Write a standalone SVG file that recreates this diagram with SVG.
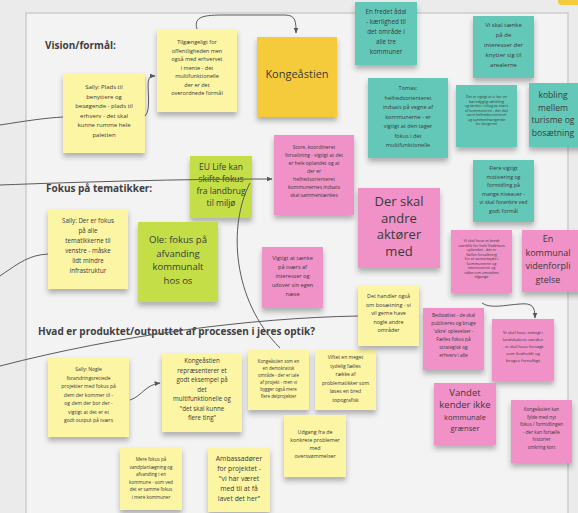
<svg xmlns="http://www.w3.org/2000/svg" width="578" height="513" viewBox="0 0 578 513">
<defs>
<filter id="sh" x="-20%" y="-20%" width="140%" height="150%">
<feDropShadow dx="0" dy="4" stdDeviation="2.5" flood-color="#333" flood-opacity="0.35"/>
</filter>
<marker id="ah" viewBox="0 0 10 10" refX="9" refY="5" markerWidth="6" markerHeight="6" orient="auto-start-reverse" markerUnits="userSpaceOnUse">
<path d="M0,1 L10,5 L0,9 z" fill="#555"/>
</marker>
<style>
.frame{fill:#f3f3f4;stroke:#cdcdcd;stroke-width:1.5}
.y{fill:#fcf5a4;filter:url(#sh)}
.g{fill:#f6cb3b;filter:url(#sh)}
.t{fill:#64c8b8;filter:url(#sh)}
.p{fill:#f091c8;filter:url(#sh)}
.l{fill:#c3de47;filter:url(#sh)}
text{font-family:"Open Sans","Noto Sans","Liberation Sans",sans-serif;fill:#3a3a3a;text-anchor:middle}
.h{font-weight:bold;font-size:10px;text-anchor:start;fill:#404040}
.c{fill:none;stroke:#5a5a5a;stroke-width:1}
</style>
</defs>
<rect width="578" height="513" fill="#ebebeb"/>
<rect class="frame" x="26" y="13" width="542" height="510"/>
<rect x="558" y="-10" width="30" height="15" rx="4" fill="#f6cb3b"/>

<g id="headings">
<text class="h" x="45" y="49">Vision/formål:</text>
<text class="h" x="46" y="192">Fokus på tematikker:</text>
<text class="h" x="38" y="335">Hvad er produktet/outputtet af processen i jeres optik?</text>
</g>

<g id="n-sally-vision">
<rect class="y" x="63" y="73" width="82" height="80"/>
<text font-size="6"><tspan x="104" y="89">Sally: Plads til</tspan><tspan x="104" y="98.5">benyttere og</tspan><tspan x="104" y="108">besøgende - plads til</tspan><tspan x="104" y="117.5">erhverv - det skal</tspan><tspan x="104" y="127">kunne rumme hele</tspan><tspan x="104" y="136.5">paletten</tspan></text>
</g>
<g id="n-tilgaengeligt">
<rect class="y" x="157" y="29" width="80" height="83"/>
<text font-size="5.5"><tspan x="197" y="44">Tilgængeligt for</tspan><tspan x="197" y="52.5">offentligheden men</tspan><tspan x="197" y="61">også med erhvervet</tspan><tspan x="197" y="69.5">i mente - det</tspan><tspan x="197" y="78">multifunktionelle</tspan><tspan x="197" y="86.5">der er det</tspan><tspan x="197" y="95">overordnede formål</tspan></text>
</g>
<g id="n-kongeaastien">
<rect class="g" x="257" y="37" width="80" height="80"/>
<text font-size="11" x="297" y="78">Kongeåstien</text>
</g>

<g id="n-fredet">
<rect class="t" x="355" y="2" width="62" height="63"/>
<text font-size="6.3"><tspan x="386" y="14">En fredet ådal</tspan><tspan x="386" y="24">- kærlighed til</tspan><tspan x="386" y="34">det område i</tspan><tspan x="386" y="44">alle tre</tspan><tspan x="386" y="54">kommuner</tspan></text>
</g>
<g id="n-interesser">
<rect class="t" x="473" y="16" width="61" height="62"/>
<text font-size="6"><tspan x="503.5" y="27">Vi skal tænke</tspan><tspan x="503.5" y="37">på de</tspan><tspan x="503.5" y="47">interesser der</tspan><tspan x="503.5" y="57">knytter sig til</tspan><tspan x="503.5" y="67">arealerne</tspan></text>
</g>
<g id="n-tomas">
<rect class="t" x="368" y="78" width="80" height="80"/>
<text font-size="5.6"><tspan x="408" y="90">Tomas:</tspan><tspan x="408" y="99.5">helhedsorienteret</tspan><tspan x="408" y="109">indsats på vegne af</tspan><tspan x="408" y="118.5">kommunerne - er</tspan><tspan x="408" y="128">vigtigt at den tager</tspan><tspan x="408" y="137.5">fokus i det</tspan><tspan x="408" y="147">multifunktionelle</tspan></text>
</g>
<g id="n-teal-small">
<rect class="t" x="456" y="85" width="61" height="62"/>
<text font-size="3.6"><tspan x="486.5" y="98">Det er vigtigt at vi har en</tspan><tspan x="486.5" y="102.5">bæredygtig udvikling</tspan><tspan x="486.5" y="107">og tænker i tiltag på tværs</tspan><tspan x="486.5" y="111.5">af kommunerne - det skal</tspan><tspan x="486.5" y="116">være helhedsorienteret</tspan><tspan x="486.5" y="120.5">og sammenhængende</tspan><tspan x="486.5" y="125">for borgerne</tspan></text>
</g>
<g id="n-kobling">
<rect class="t" x="529" y="83" width="62" height="64"/>
<text font-size="8.6"><tspan x="553" y="98">kobling</tspan><tspan x="553" y="110.5">mellem</tspan><tspan x="553" y="123">turisme og</tspan><tspan x="553" y="135.5">bosætning</tspan></text>
</g>
<g id="n-flere">
<rect class="t" x="473" y="160" width="61" height="62"/>
<text font-size="5.3"><tspan x="503.5" y="170">Flere vigtigt</tspan><tspan x="503.5" y="178.5">motivering og</tspan><tspan x="503.5" y="187">formidling på</tspan><tspan x="503.5" y="195.5">mange niveauer -</tspan><tspan x="503.5" y="204">vi skal forankre ved</tspan><tspan x="503.5" y="212.5">godt formål</tspan></text>
</g>

<g id="n-eulife">
<rect class="l" x="190" y="156" width="62" height="62"/>
<text font-size="8.5"><tspan x="221" y="170">EU Life kan</tspan><tspan x="221" y="182">skifte fokus</tspan><tspan x="221" y="194">fra landbrug</tspan><tspan x="221" y="206">til miljø</tspan></text>
</g>
<g id="n-store">
<rect class="p" x="274" y="135" width="80" height="80"/>
<text font-size="5"><tspan x="314" y="149">Store, koordineret</tspan><tspan x="314" y="157">forvaltning - vigtigt at det</tspan><tspan x="314" y="165">er hele oplandet og at</tspan><tspan x="314" y="173">der er</tspan><tspan x="314" y="181">helhedsorienteret</tspan><tspan x="314" y="189">kommunernes indsats</tspan><tspan x="314" y="197">skal sammentænkes</tspan></text>
</g>
<g id="n-sally-tema">
<rect class="y" x="48" y="209" width="80" height="80"/>
<text font-size="6.2"><tspan x="88" y="223">Sally: Der er fokus</tspan><tspan x="88" y="233">på alle</tspan><tspan x="88" y="243">tematikkerne til</tspan><tspan x="88" y="253">venstre - måske</tspan><tspan x="88" y="263">lidt mindre</tspan><tspan x="88" y="273">infrastruktur</tspan></text>
</g>
<g id="n-ole">
<rect class="l" x="138" y="222" width="80" height="80"/>
<text font-size="9.5"><tspan x="178" y="243">Ole: fokus på</tspan><tspan x="178" y="256.5">afvanding</tspan><tspan x="178" y="270">kommunalt</tspan><tspan x="178" y="283.5">hos os</tspan></text>
</g>
<g id="n-vigtigt">
<rect class="p" x="262" y="247" width="61" height="61"/>
<text font-size="5.6"><tspan x="292.5" y="260">Vigtigt at tænke</tspan><tspan x="292.5" y="269">på tværs af</tspan><tspan x="292.5" y="278">interesser og</tspan><tspan x="292.5" y="287">udover sin egen</tspan><tspan x="292.5" y="296">næse</tspan></text>
</g>
<g id="n-aktoerer">
<rect class="p" x="358" y="188" width="82" height="80"/>
<text font-size="13"><tspan x="399" y="206">Der skal</tspan><tspan x="399" y="222.5">andre</tspan><tspan x="399" y="239">aktører</tspan><tspan x="399" y="255.5">med</tspan></text>
</g>
<g id="n-pink-small">
<rect class="p" x="451" y="230" width="61" height="63"/>
<text font-size="3.8"><tspan x="481.5" y="242">Vi skal have et bredt</tspan><tspan x="481.5" y="246.5">overblik for hele Vadehavs</tspan><tspan x="481.5" y="251">oplandet - det er</tspan><tspan x="481.5" y="255.5">fælles forvaltning</tspan><tspan x="481.5" y="260">for at samarbejde i</tspan><tspan x="481.5" y="264.5">kommunerne og</tspan><tspan x="481.5" y="269">interesserne og</tspan><tspan x="481.5" y="273.5">viden om områdets</tspan><tspan x="481.5" y="278">tilgange</tspan></text>
</g>
<g id="n-videns">
<rect class="p" x="522" y="230" width="62" height="62"/>
<text font-size="9"><tspan x="548" y="242">En</tspan><tspan x="548" y="255.5">kommunal</tspan><tspan x="548" y="269">videnforpli</tspan><tspan x="548" y="282.5">gtelse</tspan></text>
</g>

<g id="n-sally-output">
<rect class="y" x="48" y="357" width="81" height="80"/>
<text font-size="5"><tspan x="88.5" y="371">Sally: Nogle</tspan><tspan x="88.5" y="379.5">forandringsrettede</tspan><tspan x="88.5" y="388">projekter med fokus på</tspan><tspan x="88.5" y="396.5">dem der kommer til -</tspan><tspan x="88.5" y="405">og dem der bor der -</tspan><tspan x="88.5" y="413.5">vigtigt at det er et</tspan><tspan x="88.5" y="422">godt output på tværs</tspan></text>
</g>
<g id="n-kong-repr">
<rect class="y" x="162" y="353" width="80" height="79"/>
<text font-size="6.2"><tspan x="202" y="363">Kongeåstien</tspan><tspan x="202" y="372.5">repræsenterer et</tspan><tspan x="202" y="382">godt eksempel på</tspan><tspan x="202" y="391.5">det</tspan><tspan x="202" y="401">multifunktionelle og</tspan><tspan x="202" y="410.5">"det skal kunne</tspan><tspan x="202" y="420">flere ting"</tspan></text>
</g>
<g id="n-kong-som">
<rect class="y" x="248" y="350" width="61" height="60"/>
<text font-size="4.4"><tspan x="278.5" y="363">Kongeåstien som en</tspan><tspan x="278.5" y="370">en demokratisk</tspan><tspan x="278.5" y="377">område - der er tale</tspan><tspan x="278.5" y="384">af projekt - men vi</tspan><tspan x="278.5" y="391">bygger også mere</tspan><tspan x="278.5" y="398">flere delprojekter</tspan></text>
</g>
<g id="n-vifter">
<rect class="y" x="315" y="350" width="61" height="60"/>
<text font-size="5"><tspan x="345.5" y="359">Viftet en meget</tspan><tspan x="345.5" y="367.5">tydelig fælles</tspan><tspan x="345.5" y="376">række af</tspan><tspan x="345.5" y="384.5">problematikker som</tspan><tspan x="345.5" y="393">løses en bred</tspan><tspan x="345.5" y="401.5">topografisk</tspan></text>
</g>
<g id="n-handler">
<rect class="y" x="358" y="285" width="61" height="61"/>
<text font-size="5.4"><tspan x="388.5" y="298">Det handler også</tspan><tspan x="388.5" y="306.5">om bosætning - vi</tspan><tspan x="388.5" y="315">vil gerne have</tspan><tspan x="388.5" y="323.5">nogle andre</tspan><tspan x="388.5" y="332">områder</tspan></text>
</g>
<g id="n-realiseret">
<rect class="p" x="423" y="308" width="61" height="62"/>
<text font-size="4.8"><tspan x="453.5" y="317">Bedstøttet - de skal</tspan><tspan x="453.5" y="325">publiceres og bruge</tspan><tspan x="453.5" y="333">'sikre' oplevelser -</tspan><tspan x="453.5" y="341">Fælles fokus på</tspan><tspan x="453.5" y="349">strategisk og</tspan><tspan x="453.5" y="357">erhverv i alle</tspan></text>
</g>
<g id="n-indsigt">
<rect class="p" x="492" y="319" width="62" height="62"/>
<text font-size="4.3"><tspan x="523" y="334">Vi skal have indsigt i</tspan><tspan x="523" y="341">landskabets værdier</tspan><tspan x="523" y="348">- vi skal have forsøgt</tspan><tspan x="523" y="355">som fastholdt og</tspan><tspan x="523" y="362">bruges fornuftigt</tspan></text>
</g>
<g id="n-vandet">
<rect class="p" x="434" y="383" width="62" height="62"/>
<text><tspan x="465" y="396" font-size="9.5">Vandet</tspan><tspan x="465" y="408" font-size="9.5">kender ikke</tspan><tspan x="465" y="419.5" font-size="7.5">kommunale</tspan><tspan x="465" y="431" font-size="7.5">grænser</tspan></text>
</g>
<g id="n-kong-fylde">
<rect class="p" x="511" y="400" width="61" height="63"/>
<text font-size="4.6"><tspan x="541.5" y="411">Kongeåstien kan</tspan><tspan x="541.5" y="418.5">fylde med nyt</tspan><tspan x="541.5" y="426">fokus / formidlingen</tspan><tspan x="541.5" y="433.5">- der kan fortælle</tspan><tspan x="541.5" y="441">historier</tspan><tspan x="541.5" y="448.5">omkring kort</tspan></text>
</g>
<g id="n-udgang">
<rect class="y" x="284" y="415" width="62" height="62"/>
<text font-size="5.3"><tspan x="315" y="434">Udgang fra de</tspan><tspan x="315" y="442">konkrete problemer</tspan><tspan x="315" y="450">med</tspan><tspan x="315" y="458">oversvømmelser</tspan></text>
</g>
<g id="n-mere">
<rect class="y" x="120" y="447" width="62" height="63"/>
<text font-size="4.6"><tspan x="151" y="461">Mere fokus på</tspan><tspan x="151" y="468.5">vandplanlægning og</tspan><tspan x="151" y="476">afvanding i en</tspan><tspan x="151" y="483.5">kommune - som ved</tspan><tspan x="151" y="491">det er samme fokus</tspan><tspan x="151" y="498.5">i mere kommuner</tspan></text>
</g>
<g id="n-ambassadoerer">
<rect class="y" x="208" y="448" width="62" height="64"/>
<text font-size="6.8"><tspan x="239" y="461">Ambassadører</tspan><tspan x="239" y="471">for projektet -</tspan><tspan x="239" y="481">"vi har været</tspan><tspan x="239" y="491">med til at få</tspan><tspan x="239" y="501">lavet det her"</tspan></text>
</g>

<g id="connectors">
<path class="c" d="M0,125 C25,121 45,118 63,117"/>
<path class="c" d="M145,116 C152,110 146,84 149,79 C150,76 152,76 155,76" marker-end="url(#ah)"/>
<path class="c" d="M197,29 C193,16 205,15 225,15 L285,15 C296,15 296,22 296,33" marker-end="url(#ah)"/>
<path class="c" d="M0,185 C80,182 180,179 272,179" marker-end="url(#ah)"/>
<path class="c" d="M250,183 C228,225 232,300 280,348"/>
<path class="c" d="M0,276 C20,262 30,255 48,254"/>
<path class="c" d="M0,366 C120,335 250,318 358,316"/>
<path class="c" d="M130,400 C142,396 145,385 160,383" marker-end="url(#ah)"/>
<path class="c" d="M482,303 C490,309 505,305 520,304 C532,303 535,306 535,318" marker-end="url(#ah)"/>
</g>
</svg>
